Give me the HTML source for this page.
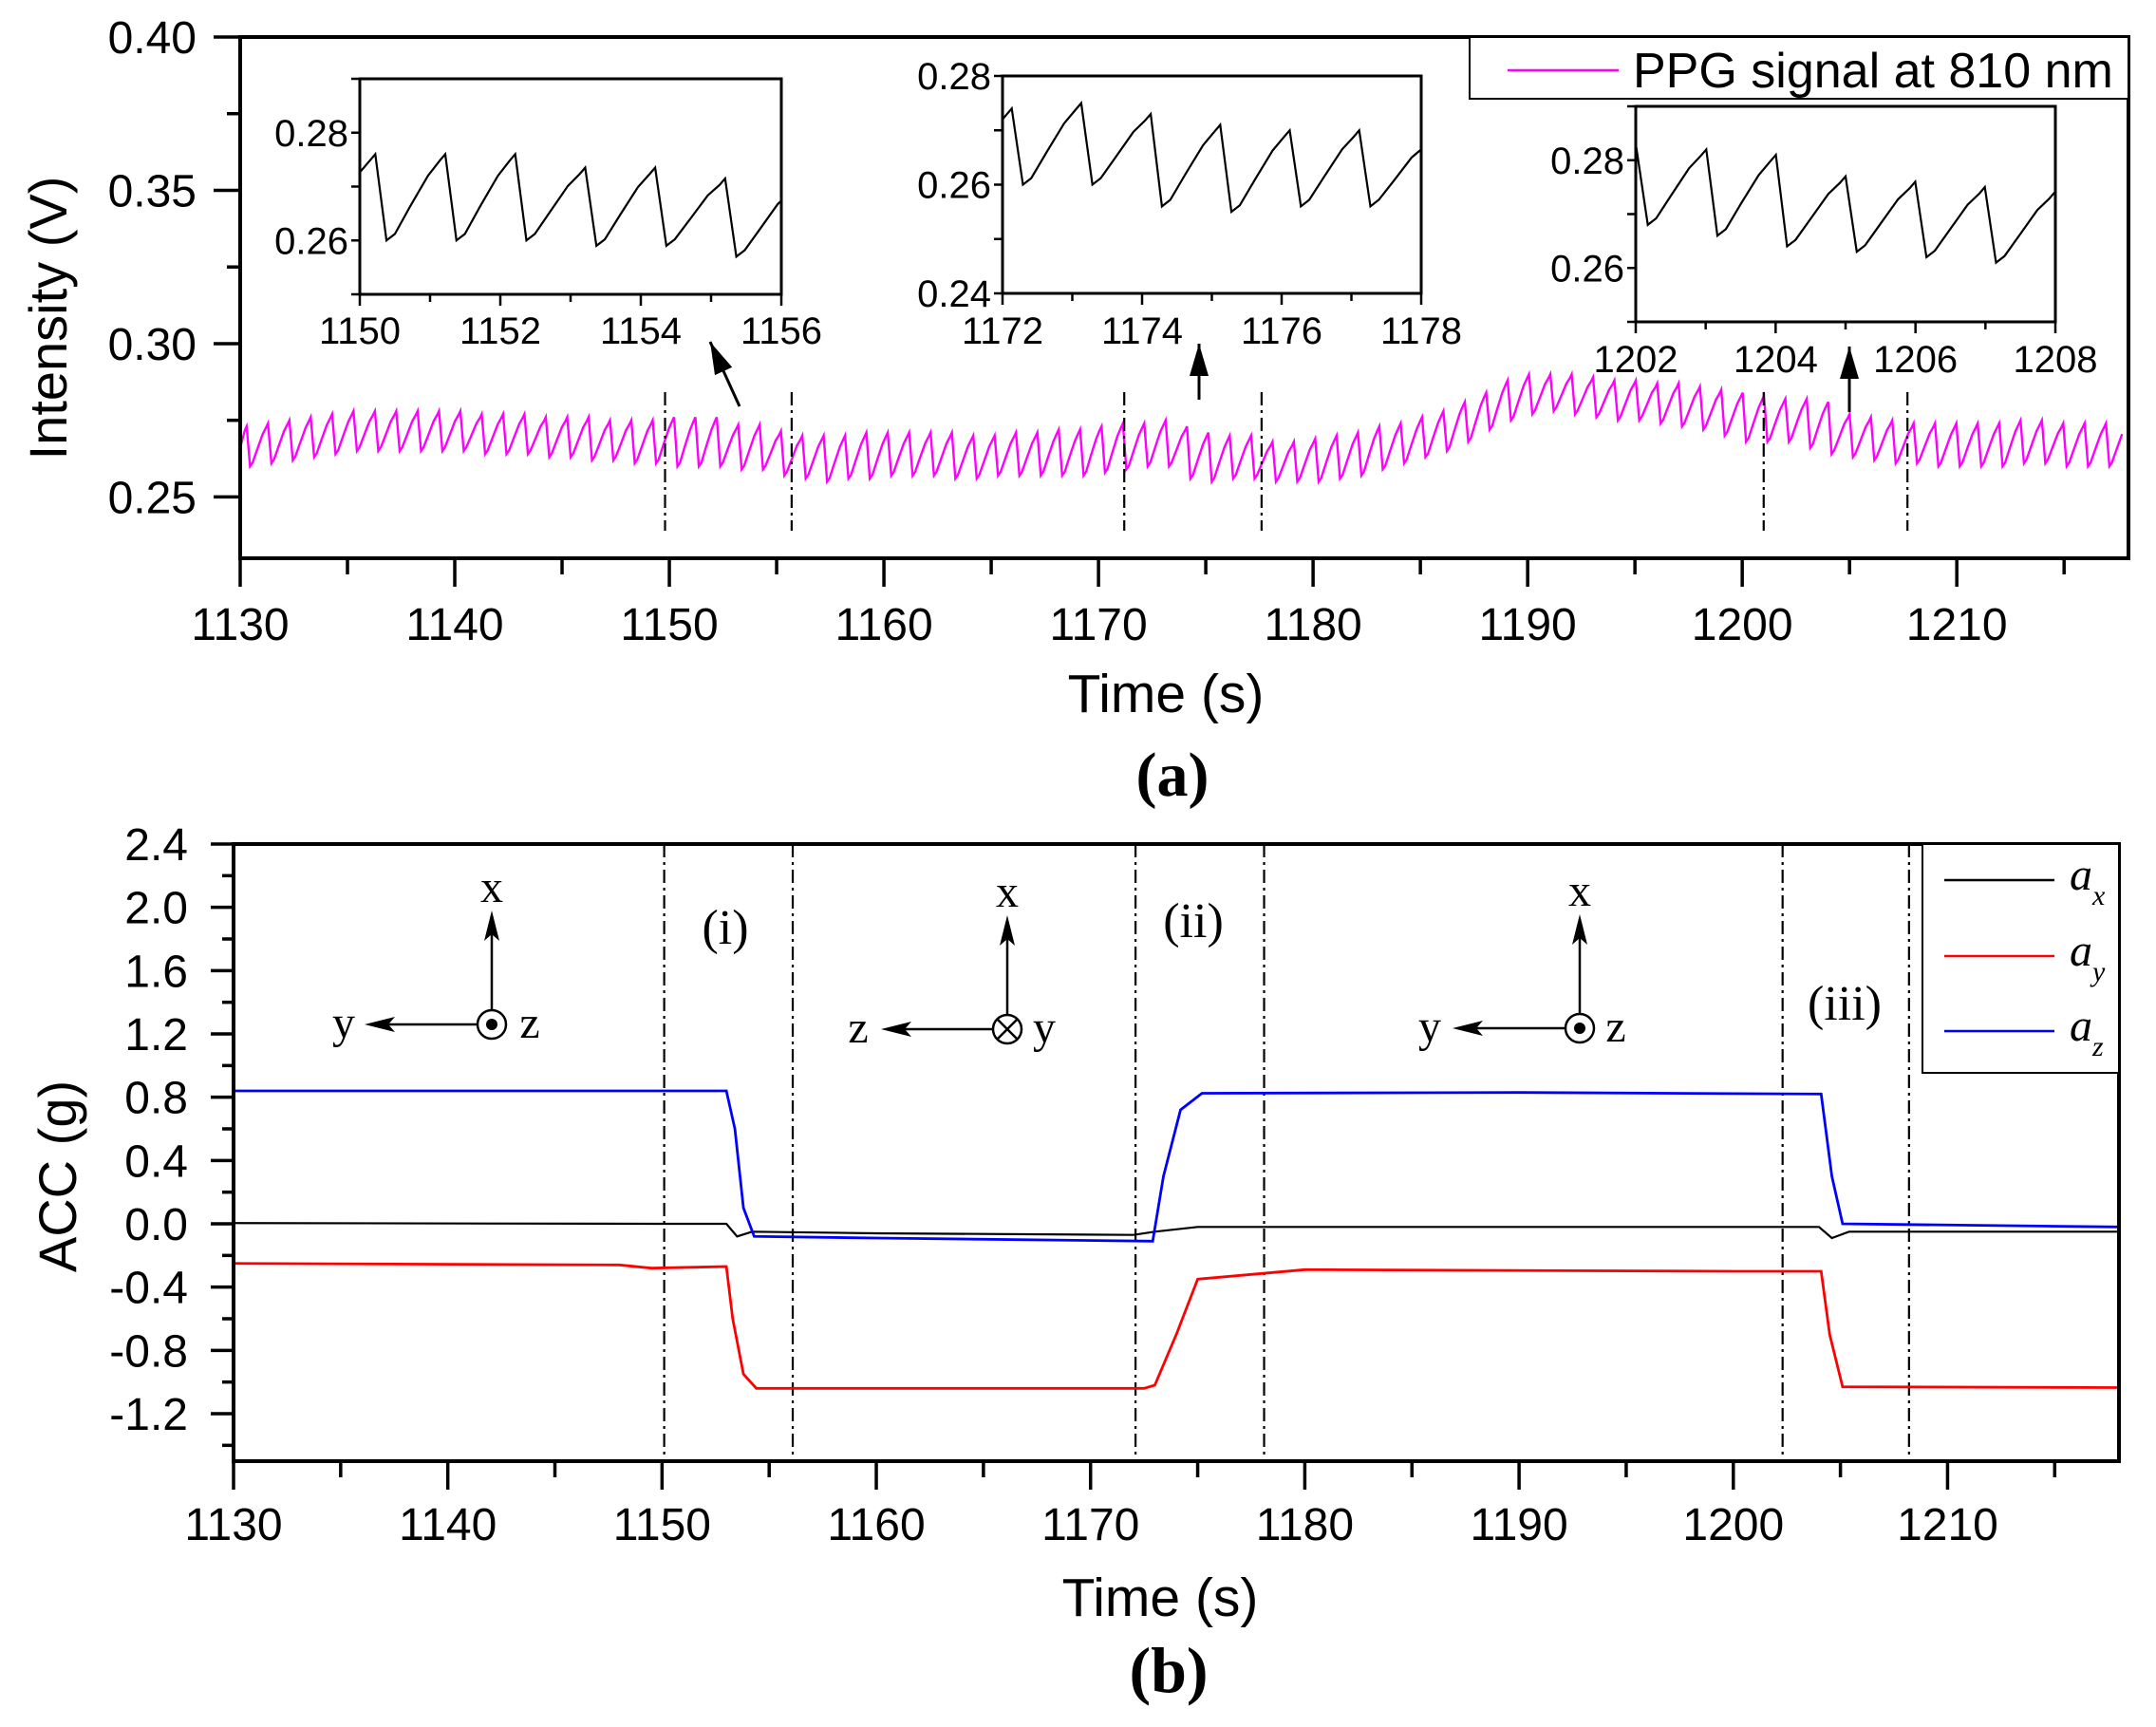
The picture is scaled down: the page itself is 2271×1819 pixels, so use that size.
<!DOCTYPE html>
<html><head><meta charset="utf-8"><style>
html,body{margin:0;padding:0;background:#fff;}
svg{display:block;font-family:"Liberation Sans",sans-serif;}
</style></head><body>
<svg id="fig" width="2271" height="1819" viewBox="0 0 2271 1819" xmlns="http://www.w3.org/2000/svg">
<g id="gA"></g>
<g id="gB"></g>
</svg>
<script>
// ---------- Panel (a) data: PPG beats ----------
const beatStart = 1130.3;
const beatPeriod = 0.996;
const ppgPeaks = [
.273,.274,.275,.276,.277,.278,.278,.278,.278,.278,
.278,.277,.277,.277,.276,.276,.276,.275,.275,.275,
.276,.276,.276,.2735,.2735,.2715,.270,.270,.270,.271,
.271,.271,.271,.271,.270,.270,.271,.271,.272,.272,
.273,.274,.274,.275,.273,.271,.270,.270,.268,.268,
.269,.270,.271,.273,.274,.276,.278,.281,.284,.288,
.290,.290,.290,.289,.288,.288,.287,.287,.286,.285,
.284,.283,.282,.282,.281,.277,.276,.275,.274,.274,
.274,.274,.274,.275,.275,.274,.274,.274];
const ppgTroughs = [
.260,.261,.262,.263,.264,.265,.265,.265,.265,.265,
.265,.264,.264,.264,.263,.263,.262,.262,.261,.261,
.260,.260,.260,.259,.259,.257,.256,.255,.256,.256,
.257,.257,.257,.256,.256,.257,.257,.257,.257,.257,
.258,.259,.260,.260,.256,.255,.256,.256,.255,.255,
.255,.256,.257,.259,.261,.263,.265,.268,.272,.275,
.277,.278,.277,.276,.275,.275,.274,.273,.272,.270,
.268,.268,.268,.266,.264,.263,.262,.261,.261,.260,
.260,.260,.260,.261,.261,.260,.260,.260];
const aXTicks = [1130,1140,1150,1160,1170,1180,1190,1200,1210];
const aYTicks = [0.25,0.30,0.35,0.40];
const aYLabels = ["0.25","0.30","0.35","0.40"];
const aMarkers = [1149.8,1155.7,1171.2,1177.6,1201.0,1207.7];

// ---------- Panel (b) data: accelerometer ----------
const axT = [1130,1150,1153.0,1153.5,1154.2,1160,1172,1173.0,1175,1190,1204.0,1204.6,1205.4,1218];
const axV = [0.005,0.0,0.0,-0.08,-0.05,-0.06,-0.07,-0.05,-0.02,-0.02,-0.02,-0.09,-0.05,-0.05];
const ayT = [1130,1148,1149.5,1153.0,1153.3,1153.8,1154.4,1160,1172.5,1173.0,1174.0,1175.0,1180,1200,1204.1,1204.5,1205.1,1218];
const ayV = [-0.25,-0.26,-0.28,-0.27,-0.60,-0.95,-1.04,-1.04,-1.04,-1.02,-0.70,-0.35,-0.29,-0.30,-0.30,-0.70,-1.03,-1.035];
const azT = [1130,1153.0,1153.4,1153.8,1154.3,1160,1172.9,1173.4,1174.2,1175.2,1190,1204.1,1204.6,1205.1,1218];
const azV = [0.84,0.84,0.60,0.10,-0.08,-0.09,-0.11,0.30,0.72,0.825,0.83,0.82,0.30,0.00,-0.02];
const bYTicks = [-1.2,-0.8,-0.4,0.0,0.4,0.8,1.2,1.6,2.0,2.4];
const bYLabels = ["-1.2","-0.8","-0.4","0.0","0.4","0.8","1.2","1.6","2.0","2.4"];
const bXTicks = [1130,1140,1150,1160,1170,1180,1190,1200,1210];
const bMarkers = [1150.1,1156.1,1172.1,1178.1,1202.3,1208.2];

const NS = "http://www.w3.org/2000/svg";
function mk(tag, attrs, parent, text){
  const e = document.createElementNS(NS, tag);
  for (const k in attrs) e.setAttribute(k, attrs[k]);
  if (text !== undefined) e.textContent = text;
  parent.appendChild(e);
  return e;
}
function ppgPoints(){
  const pts = [];
  for (let k = 0; k < ppgPeaks.length; k++){
    const tp = beatStart + k*beatPeriod;
    const nextP = k+1 < ppgPeaks.length ? ppgPeaks[k+1] : ppgPeaks[k];
    const tr = ppgTroughs[k];
    pts.push([tp - 0.08, ppgPeaks[k] - 0.0012]);
    pts.push([tp, ppgPeaks[k]]);
    pts.push([tp + 0.16, tr]);
    pts.push([tp + 0.28, tr + 0.0012]);
    pts.push([tp + 0.5, tr + 0.4*(nextP - tr)]);
    pts.push([tp + 0.75, tr + 0.75*(nextP - tr)]);
  }
  pts.unshift([1130, ppgTroughs[0] + 0.006]);
  return pts;
}

// ---------- Panel (a) ----------
(function(){
  const g = document.getElementById('gA');
  const X0=253, X1=2242, Y0=39, Y1=588, xmin=1130, xmax=1218, ymin=0.230, ymax=0.40;
  const sx = v => X0 + (v-xmin)/(xmax-xmin)*(X1-X0);
  const sy = v => Y1 - (v-ymin)/(ymax-ymin)*(Y1-Y0);
  // main series
  const pts = ppgPoints().filter(p => p[0] <= xmax);
  const d = pts.map((p,i)=>(i?'L':'M')+sx(p[0]).toFixed(1)+' '+sy(p[1]).toFixed(1)).join('');
  const line = mk('path',{d:d,fill:'none',stroke:'#ff00ff','stroke-width':2.4},g);
  
  
  // markers
  aMarkers.forEach(t=>{
    const m = mk('line',{x1:sx(t),x2:sx(t),y1:413,y2:559,stroke:'#000','stroke-width':2.2,'stroke-dasharray':'14 5 3 5'},g);
    
    
  });
  // axes frame
  const fr = mk('rect',{x:X0,y:Y0,width:X1-X0,height:Y1-Y0,fill:'none',stroke:'#000','stroke-width':4},g);
  
  
  // x ticks
  for (let v=1130; v<=1215; v+=5){
    const major = v%10===0;
    mk('line',{x1:sx(v),x2:sx(v),y1:Y1,y2:Y1+(major?30:17),stroke:'#000','stroke-width':3.5},g);
  }
  aXTicks.forEach(v=>{
    const t = mk('text',{x:sx(v),y:674,'font-size':48,'text-anchor':'middle'},g,String(v));
    
    
  });
  for (let i=0;i<7;i++){
    const v = 0.25 + i*0.025;
    const major = i%2===0;
    mk('line',{x1:X0,x2:X0-(major?28:14),y1:sy(v),y2:sy(v),stroke:'#000','stroke-width':3.5},g);
  }
  aYTicks.forEach((v,i)=>{
    const t = mk('text',{x:207,y:sy(v)+17,'font-size':48,'text-anchor':'end'},g,aYLabels[i]);
    
    
  });
  const yt = mk('text',{x:0,y:0,'font-size':56,'text-anchor':'middle',transform:'translate(70,335) rotate(-90)'},g,'Intensity (V)');
  
  
  const xt = mk('text',{x:1228,y:750,'font-size':57,'text-anchor':'middle'},g,'Time (s)');
  
  
  const pl = mk('text',{x:1235,y:838,'font-size':66,'font-weight':'bold','text-anchor':'middle','font-family':'Liberation Serif, serif'},g,'(a)');
  
  
  // legend
  const lg = mk('g',{},g);
  
  
  mk('rect',{x:1548,y:39,width:694,height:65,fill:'#fff',stroke:'#000','stroke-width':2},lg);
  mk('line',{x1:1588,x2:1705,y1:74,y2:74,stroke:'#ff00ff','stroke-width':2.5},lg);
  mk('text',{x:1720,y:92,'font-size':52},lg,'PPG signal at 810 nm');

  // insets
  const insets = [
    {x0:379,x1:823,y0:83,y1:310,xmin:1150,xmax:1156,ymin:0.25,ymax:0.29,yl:[0.26,0.28],lx:348,arrow:[779,428,748,360],name:'inset-1150'},
    {x0:1056,x1:1497,y0:80,y1:309,xmin:1172,xmax:1178,ymin:0.24,ymax:0.28,yl:[0.24,0.26,0.28],lx:348,arrow:[1263,421,1263,362],name:'inset-1172'},
    {x0:1723,x1:2165,y0:112,y1:339,xmin:1202,xmax:1208,ymin:0.25,ymax:0.29,yl:[0.26,0.28],lx:378,arrow:[1948,434,1948,365],name:'inset-1202'}
  ];
  const all = ppgPoints();
  insets.forEach(ins=>{
    const ig = mk('g',{},g);
    
    
    const ix = v => ins.x0 + (v-ins.xmin)/(ins.xmax-ins.xmin)*(ins.x1-ins.x0);
    const iy = v => ins.y1 - (v-ins.ymin)/(ins.ymax-ins.ymin)*(ins.y1-ins.y0);
    mk('rect',{x:ins.x0,y:ins.y0,width:ins.x1-ins.x0,height:ins.y1-ins.y0,fill:'#fff',stroke:'#000','stroke-width':3},ig);
    const sub = all.filter(p=>p[0]>=ins.xmin-0.3 && p[0]<=ins.xmax+0.3);
    mk('clipPath',{id:'c'+ins.name},ig);
    const cp = ig.lastChild;
    mk('rect',{x:ins.x0,y:ins.y0,width:ins.x1-ins.x0,height:ins.y1-ins.y0},cp);
    const dd = sub.map((p,i)=>(i?'L':'M')+ix(p[0]).toFixed(1)+' '+iy(p[1]).toFixed(1)).join('');
    const il = mk('path',{d:dd,fill:'none',stroke:'#000','stroke-width':2.2,'clip-path':'url(#c'+ins.name+')'},ig);
    
    
    for (let v=ins.xmin; v<=ins.xmax; v++){
      mk('line',{x1:ix(v),x2:ix(v),y1:ins.y1,y2:ins.y1+((v-ins.xmin)%2===0?12:8),stroke:'#000','stroke-width':2.5},ig);
      if ((v-ins.xmin)%2===0) mk('text',{x:ix(v),y:ins.lx+14,'font-size':40,'text-anchor':'middle'},ig,String(v));
    }
    for (let v=ins.ymin; v<=ins.ymax+1e-9; v+=0.01){
      mk('line',{x1:ins.x0,x2:ins.x0-9,y1:iy(v),y2:iy(v),stroke:'#000','stroke-width':2.5},ig);
    }
    ins.yl.forEach(v=>mk('text',{x:ins.x0-12,y:iy(v)+14,'font-size':40,'text-anchor':'end'},ig,v.toFixed(2)));
    const a = ins.arrow;
    mk('line',{x1:a[0],y1:a[1],x2:a[2],y2:a[3],stroke:'#000','stroke-width':3},ig);
    const ang = Math.atan2(a[3]-a[1],a[2]-a[0]);
    const L=34,W=10;
    const bx=a[2]-L*Math.cos(ang), by=a[3]-L*Math.sin(ang);
    mk('polygon',{points:`${a[2]},${a[3]} ${bx+W*Math.sin(ang)},${by-W*Math.cos(ang)} ${bx-W*Math.sin(ang)},${by+W*Math.cos(ang)}`,fill:'#000'},ig);
  });
})();

// ---------- Panel (b) ----------
(function(){
  const g = document.getElementById('gB');
  const X0=246, X1=2232, Y0=889, Y1=1539, xmin=1130, xmax=1218, ymin=-1.5, ymax=2.4;
  const sx = v => X0 + (v-xmin)/(xmax-xmin)*(X1-X0);
  const sy = v => Y1 - (v-ymin)/(ymax-ymin)*(Y1-Y0);
  bMarkers.forEach(t=>{
    const m = mk('line',{x1:sx(t),x2:sx(t),y1:Y0,y2:Y1,stroke:'#000','stroke-width':2.2,'stroke-dasharray':'14 5 3 5'},g);
    
    
  });
  const series = [[axT,axV,'#000','ax-line'],[ayT,ayV,'#ff0000','ay-line'],[azT,azV,'#0000ff','az-line']];
  series.forEach(s=>{
    const d = s[0].map((t,i)=>(i?'L':'M')+sx(t).toFixed(1)+' '+sy(s[1][i]).toFixed(1)).join('');
    const p = mk('path',{d:d,fill:'none',stroke:s[2],'stroke-width':s[2]==='#000'?2.2:2.8},g);
    
    
  });
  const fr = mk('rect',{x:X0,y:Y0,width:X1-X0,height:Y1-Y0,fill:'none',stroke:'#000','stroke-width':4},g);
  
  
  for (let v=1130; v<=1215; v+=5){
    const major = v%10===0;
    mk('line',{x1:sx(v),x2:sx(v),y1:Y1,y2:Y1+(major?30:17),stroke:'#000','stroke-width':3.5},g);
  }
  bXTicks.forEach(v=>{
    const t = mk('text',{x:sx(v),y:1622,'font-size':48,'text-anchor':'middle'},g,String(v));
    
    
  });
  for (let i=0;i<=19;i++){
    const v = -1.4 + i*0.2;
    const major = Math.abs(Math.round(v*10))%4===0;
    mk('line',{x1:X0,x2:X0-(major?24:12),y1:sy(v),y2:sy(v),stroke:'#000','stroke-width':3.5},g);
  }
  bYTicks.forEach((v,i)=>{
    const t = mk('text',{x:198,y:sy(v)+17,'font-size':48,'text-anchor':'end'},g,bYLabels[i]);
    
    
  });
  const yt = mk('text',{x:0,y:0,'font-size':56,'text-anchor':'middle',transform:'translate(80,1239) rotate(-90)'},g,'ACC (g)');
  
  
  const xt = mk('text',{x:1222,y:1702,'font-size':57,'text-anchor':'middle'},g,'Time (s)');
  
  
  const pl = mk('text',{x:1231,y:1782,'font-size':68,'font-weight':'bold','text-anchor':'middle','font-family':'Liberation Serif, serif'},g,'(b)');
  
  
  // region labels
  [['(i)',764,994],['(ii)',1257,987],['(iii)',1943,1074]].forEach(r=>{
    const t = mk('text',{x:r[1],y:r[2],'font-size':52,'text-anchor':'middle','font-family':'Liberation Serif, serif'},g,r[0]);
    
    
  });
  // coordinate glyphs
  const coords = [
    {cx:518,cy:1079,left:384,lx:362,rx:558,lt:'y',rt:'z',dot:true},
    {cx:1061,cy:1084,left:928,lx:904,rx:1100,lt:'z',rt:'y',dot:false},
    {cx:1664,cy:1083,left:1530,lx:1506,rx:1702,lt:'y',rt:'z',dot:true}
  ];
  coords.forEach(c=>{
    const cg = mk('g',{'font-family':'Liberation Serif, serif'},g);
    
    
    mk('line',{x1:c.cx,x2:c.cx,y1:c.cy-15,y2:c.cy-100,stroke:'#000','stroke-width':2.5},cg);
    mk('polygon',{points:`${c.cx},${c.cy-120} ${c.cx-8},${c.cy-88} ${c.cx},${c.cy-95} ${c.cx+8},${c.cy-88}`,fill:'#000'},cg);
    mk('line',{x1:c.cx-15,x2:c.left+15,y1:c.cy,y2:c.cy,stroke:'#000','stroke-width':2.5},cg);
    mk('polygon',{points:`${c.left},${c.cy} ${c.left+32},${c.cy-8} ${c.left+25},${c.cy} ${c.left+32},${c.cy+8}`,fill:'#000'},cg);
    mk('circle',{cx:c.cx,cy:c.cy,r:15,fill:'none',stroke:'#000','stroke-width':2.5},cg);
    if (c.dot) mk('circle',{cx:c.cx,cy:c.cy,r:6,fill:'#000'},cg);
    else {
      mk('line',{x1:c.cx-10,y1:c.cy-10,x2:c.cx+10,y2:c.cy+10,stroke:'#000','stroke-width':2.5},cg);
      mk('line',{x1:c.cx+10,y1:c.cy-10,x2:c.cx-10,y2:c.cy+10,stroke:'#000','stroke-width':2.5},cg);
    }
    mk('text',{x:c.cx,y:c.cy-129,'font-size':48,'text-anchor':'middle'},cg,'x');
    mk('text',{x:c.lx,y:c.cy+14,'font-size':48,'text-anchor':'middle'},cg,c.lt);
    mk('text',{x:c.rx,y:c.cy+14,'font-size':48,'text-anchor':'middle'},cg,c.rt);
  });
  // legend
  const lg = mk('g',{'font-family':'Liberation Serif, serif'},g);
  
  
  mk('rect',{x:2025,y:889,width:207,height:241,fill:'#fff',stroke:'#000','stroke-width':2},lg);
  [['#000','x',927],['#ff0000','y',1007],['#0000ff','z',1086]].forEach(e=>{
    mk('line',{x1:2048,x2:2164,y1:e[2],y2:e[2],stroke:e[0],'stroke-width':2.5},lg);
    const t = mk('text',{x:2180,y:e[2]+10,'font-size':48,'font-style':'italic'},lg,'a');
    mk('tspan',{dy:16,'font-size':30},t,e[1]);
  });
})();
</script>
</body></html>
